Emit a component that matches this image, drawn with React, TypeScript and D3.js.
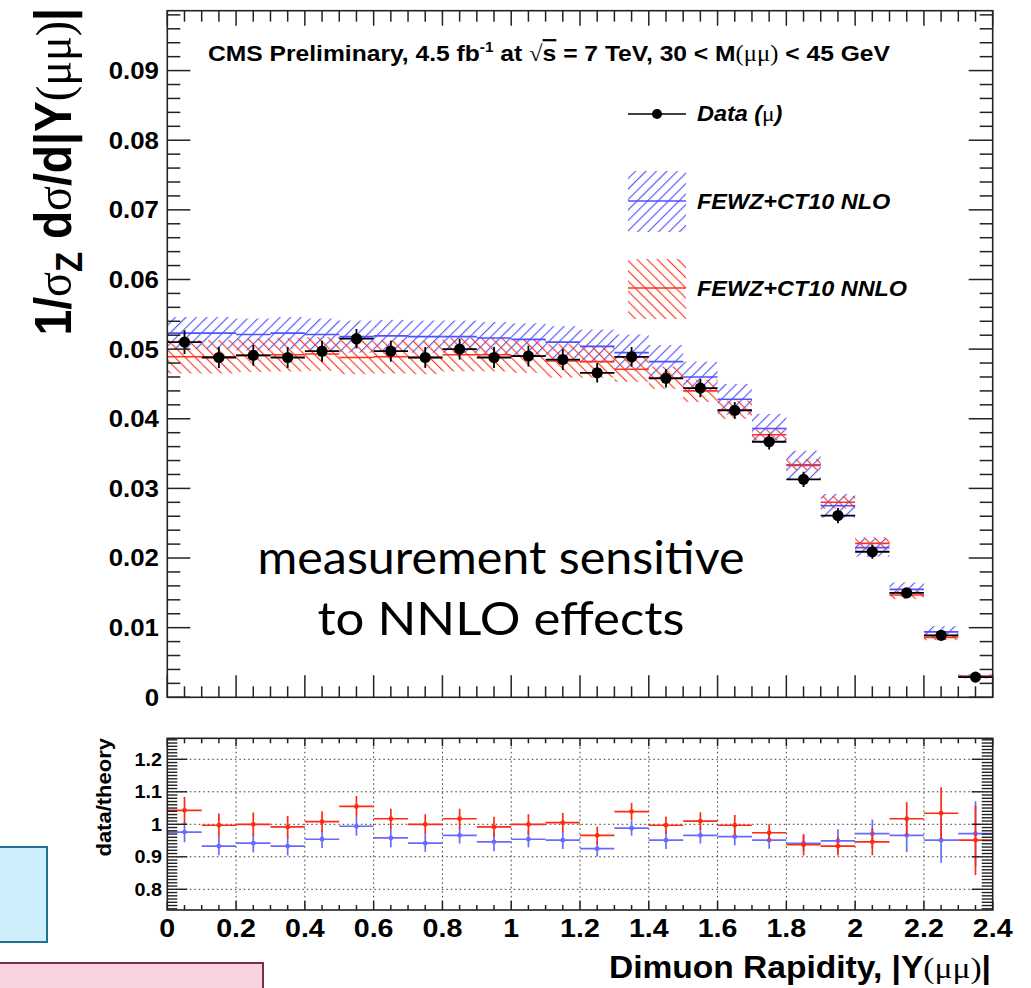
import React from "react";
import * as d3 from "d3";

// ---------- data ----------
const binLow = [0.0, 0.1, 0.2, 0.3, 0.4, 0.5, 0.6, 0.7, 0.8, 0.9, 1.0, 1.1, 1.2, 1.3, 1.4, 1.5, 1.6, 1.7, 1.8, 1.9, 2.0, 2.1, 2.2, 2.3];
const binHigh = [0.1, 0.2, 0.3, 0.4, 0.5, 0.6, 0.7, 0.8, 0.9, 1.0, 1.1, 1.2, 1.3, 1.4, 1.5, 1.6, 1.7, 1.8, 1.9, 2.0, 2.1, 2.2, 2.3, 2.4];

const dataVal = [0.0510, 0.0488, 0.0491, 0.0488, 0.0497, 0.0515, 0.0497, 0.0488, 0.0500, 0.0488, 0.0490, 0.0485, 0.0466, 0.0489, 0.0458, 0.0444, 0.0412, 0.0367, 0.0313, 0.0261, 0.0209, 0.0150, 0.0089, 0.0029];
const dataErr = [0.0017, 0.0015, 0.0015, 0.0015, 0.0015, 0.0014, 0.0015, 0.0015, 0.0015, 0.0015, 0.0015, 0.0015, 0.0014, 0.0014, 0.0013, 0.0013, 0.0012, 0.0011, 0.0011, 0.0011, 0.0010, 0.0007, 0.0007, 0.0003];

const nloVal = [0.0523, 0.0523, 0.0521, 0.0523, 0.0521, 0.0518, 0.0519, 0.0518, 0.0518, 0.0516, 0.0514, 0.0510, 0.0504, 0.0495, 0.0482, 0.0460, 0.0428, 0.0386, 0.0333, 0.0275, 0.0215, 0.0155, 0.0094, 0.0030];
const nloErr = [0.0023, 0.0023, 0.0023, 0.0023, 0.0023, 0.0023, 0.0023, 0.0023, 0.0023, 0.0023, 0.0023, 0.0023, 0.0024, 0.0026, 0.0024, 0.0022, 0.0022, 0.0021, 0.0021, 0.0017, 0.0013, 0.0010, 0.0008, 0.0003];

const nnloVal = [0.0489, 0.0489, 0.0491, 0.0492, 0.0493, 0.0488, 0.0489, 0.0488, 0.0492, 0.0492, 0.0490, 0.0483, 0.0482, 0.0471, 0.0459, 0.0440, 0.0413, 0.0377, 0.0334, 0.0280, 0.0221, 0.0147, 0.0086, 0.0030];
const nnloErr = [0.0024, 0.0024, 0.0024, 0.0024, 0.0024, 0.0024, 0.0024, 0.0024, 0.0024, 0.0024, 0.0024, 0.0024, 0.0023, 0.0018, 0.0016, 0.0016, 0.0013, 0.0008, 0.0008, 0.0009, 0.0009, 0.0006, 0.0004, 0.0002];

const ratioNlo = [0.976, 0.933, 0.942, 0.933, 0.954, 0.994, 0.958, 0.942, 0.966, 0.946, 0.954, 0.951, 0.925, 0.988, 0.951, 0.966, 0.962, 0.951, 0.941, 0.949, 0.971, 0.966, 0.951, 0.971];
const ratioNloErr = [0.031, 0.028, 0.029, 0.029, 0.027, 0.029, 0.029, 0.027, 0.025, 0.029, 0.025, 0.027, 0.024, 0.023, 0.027, 0.025, 0.027, 0.026, 0.025, 0.036, 0.044, 0.051, 0.069, 0.100];
const ratioNnlo = [1.043, 0.997, 1.000, 0.992, 1.008, 1.055, 1.017, 1.000, 1.017, 0.992, 1.000, 1.005, 0.966, 1.039, 0.997, 1.010, 0.997, 0.974, 0.937, 0.933, 0.946, 1.017, 1.034, 0.951];
const ratioNnloErr = [0.041, 0.036, 0.036, 0.034, 0.032, 0.032, 0.031, 0.031, 0.031, 0.031, 0.031, 0.030, 0.027, 0.027, 0.027, 0.027, 0.032, 0.026, 0.033, 0.029, 0.041, 0.051, 0.080, 0.107];

const xTickVals = [0, 0.2, 0.4, 0.6, 0.8, 1.0, 1.2, 1.4, 1.6, 1.8, 2.0, 2.2, 2.4];
const xTickLabels = ["0", "0.2", "0.4", "0.6", "0.8", "1", "1.2", "1.4", "1.6", "1.8", "2", "2.2", "2.4"];
const yMainTickVals = [0, 0.01, 0.02, 0.03, 0.04, 0.05, 0.06, 0.07, 0.08, 0.09];
const yMainTickLabels = ["0", "0.01", "0.02", "0.03", "0.04", "0.05", "0.06", "0.07", "0.08", "0.09"];
const yRatioTickVals = [0.8, 0.9, 1.0, 1.1, 1.2];
const yRatioTickLabels = ["0.8", "0.9", "1", "1.1", "1.2"];

// ---------- styling ----------
const SANS = "'Liberation Sans', Arial, Helvetica, sans-serif";
const SERIF = "'Liberation Serif', 'DejaVu Serif', serif";
const BLUE = "#5050ff";
const RED = "#ff3318";
const RBLUE = "#6a6aff";
const RRED = "#ff2a12";
const FRAME = "#222";
const SX = 1.1;

const W = 1031;
const H = 988;

const x = d3.scaleLinear().domain([0, 2.4]).range([167.3, 992.7]);
const yMain = d3.scaleLinear().domain([0, 0.0986]).range([697.3, 10.7]);
const yRatio = d3.scaleLinear().domain([0.7363, 1.2646]).range([910, 738.3]);

function T(props: any) {
  const { x: tx, y: ty, size, anchor = "start", rot = 0, sx = SX, sy = 1, weight = "bold", italic = false, children, fill = "#000" } = props;
  return (
    <text
      transform={`translate(${tx},${ty}) rotate(${rot}) scale(${sx},${sy})`}
      fontFamily={SANS}
      fontSize={size}
      fontWeight={weight}
      fontStyle={italic ? "italic" : "normal"}
      textAnchor={anchor}
      fill={fill}
    >
      {children}
    </text>
  );
}

export default function App() {
  const [mx0, mx1] = x.range();
  const mTop = yMain.range()[1];
  const mBot = yMain.range()[0];
  const rTop = yRatio.range()[1];
  const rBot = yRatio.range()[0];

  const xMinor = d3.range(0, 2.4001, 0.05);
  const yMainMinor = d3.range(0, 0.0986, 0.002);
  const yRatioMinor = d3.range(0.74, 1.2646, 0.01);

  const isMajorX = (v: number) => Math.abs(v / 0.2 - Math.round(v / 0.2)) < 1e-6;
  const isMajorYM = (v: number) => Math.abs(v / 0.01 - Math.round(v / 0.01)) < 1e-6;
  const isMajorYR = (v: number) => Math.abs(v / 0.1 - Math.round(v / 0.1)) < 1e-6;

  return (
    <svg width={W} height={H} style={{ position: "absolute", left: 0, top: 0, background: "#fff" }}>
      <defs>
        <pattern id="hatchBlue" patternUnits="userSpaceOnUse" width="7.4" height="7.4" patternTransform="rotate(45)">
          <line x1="0.6" y1="0" x2="0.6" y2="7.4" stroke={BLUE} strokeWidth="1.1" />
        </pattern>
        <pattern id="hatchRed" patternUnits="userSpaceOnUse" width="7.2" height="7.2" patternTransform="rotate(-45)">
          <line x1="0.6" y1="0" x2="0.6" y2="7.2" stroke={RED} strokeWidth="1.1" />
        </pattern>
        <clipPath id="clipMain">
          <rect x={mx0} y={mTop} width={mx1 - mx0} height={mBot - mTop} />
        </clipPath>
        <clipPath id="clipRatio">
          <rect x={mx0} y={rTop} width={mx1 - mx0} height={rBot - rTop} />
        </clipPath>
      </defs>
      <rect x={0} y={0} width={W} height={H} fill="#fff" />

      {/* slide boxes at left */}
      <rect x={-3} y={847} width={50} height={95} fill="#cdeefa" stroke="#1f7391" strokeWidth={2} />
      <rect x={-3} y={963} width={266} height={40} fill="#f8d3de" stroke="#7d2b48" strokeWidth={2} />

      {/* ===== main panel ===== */}
      <g clipPath="url(#clipMain)">
        {binLow.map((lo, i) => (
          <rect key={"nb" + i} x={x(lo)} width={x(binHigh[i]) - x(lo)}
            y={yMain(nloVal[i] + nloErr[i])} height={yMain(nloVal[i] - nloErr[i]) - yMain(nloVal[i] + nloErr[i])}
            fill="url(#hatchBlue)" />
        ))}
        {binLow.map((lo, i) => (
          <rect key={"rb" + i} x={x(lo)} width={x(binHigh[i]) - x(lo)}
            y={yMain(nnloVal[i] + nnloErr[i])} height={yMain(nnloVal[i] - nnloErr[i]) - yMain(nnloVal[i] + nnloErr[i])}
            fill="url(#hatchRed)" />
        ))}
        {binLow.map((lo, i) => (
          <line key={"nl" + i} x1={x(lo)} x2={x(binHigh[i])} y1={yMain(nloVal[i])} y2={yMain(nloVal[i])} stroke={BLUE} strokeWidth={1.6} />
        ))}
        {binLow.map((lo, i) => (
          <line key={"rl" + i} x1={x(lo)} x2={x(binHigh[i])} y1={yMain(nnloVal[i])} y2={yMain(nnloVal[i])} stroke={RED} strokeWidth={1.6} />
        ))}
        {binLow.map((lo, i) => {
          const cx = x((lo + binHigh[i]) / 2);
          return (
            <g key={"d" + i}>
              <line x1={x(lo)} x2={x(binHigh[i])} y1={yMain(dataVal[i])} y2={yMain(dataVal[i])} stroke="#000" strokeWidth={1.8} />
              <line x1={cx} x2={cx} y1={yMain(dataVal[i] - dataErr[i])} y2={yMain(dataVal[i] + dataErr[i])} stroke="#000" strokeWidth={1.8} />
              <circle cx={cx} cy={yMain(dataVal[i])} r={5.6} fill="#000" />
            </g>
          );
        })}
      </g>

      {/* main frame & ticks */}
      <rect x={mx0} y={mTop} width={mx1 - mx0} height={mBot - mTop} fill="none" stroke={FRAME} strokeWidth={1.6} />
      {xMinor.map((v, i) => {
        const major = isMajorX(v);
        return (
          <g key={"mxt" + i} stroke={FRAME} strokeWidth={1.5}>
            <line x1={x(v)} x2={x(v)} y1={mBot} y2={mBot - (major ? 22 : 11)} />
            <line x1={x(v)} x2={x(v)} y1={mTop} y2={mTop + (major ? 15 : 11)} />
          </g>
        );
      })}
      {yMainMinor.map((v, i) => {
        const major = isMajorYM(v);
        return (
          <g key={"myt" + i} stroke={FRAME} strokeWidth={1.5}>
            <line x1={mx0} x2={mx0 + (major ? 23 : 13)} y1={yMain(v)} y2={yMain(v)} />
            <line x1={mx1} x2={mx1 - (major ? 24 : 13)} y1={yMain(v)} y2={yMain(v)} />
          </g>
        );
      })}
      {yMainTickVals.map((v, i) => (
        <T key={"myl" + i} x={159} y={yMain(v) + 8.4} size={23.5} anchor="end">{yMainTickLabels[i]}</T>
      ))}

      {/* main y title */}
      <text transform={`translate(71,8) rotate(-90) scale(${SX},1.22)`} fontFamily={SANS} fontSize={42} fontWeight="bold" textAnchor="end">
        <tspan>1/</tspan>
        <tspan fontFamily={SERIF} fontWeight="normal">σ</tspan>
        <tspan fontSize={30} dy={9}>Z</tspan>
        <tspan dy={-9}> d</tspan>
        <tspan fontFamily={SERIF} fontWeight="normal">σ</tspan>
        <tspan>/d|Y</tspan>
        <tspan fontFamily={SERIF} fontWeight="normal">(μμ)</tspan>
        <tspan>|</tspan>
      </text>

      {/* header */}
      <text transform={`translate(208,61) scale(1.095,1)`} fontFamily={SANS} fontSize={22.5} fontWeight="bold">
        <tspan>CMS Preliminary, 4.5 fb</tspan>
        <tspan fontSize={14} dy={-9}>-1</tspan>
        <tspan dy={9}> at </tspan>
        <tspan fontFamily={SERIF} fontWeight="normal">√</tspan>
        <tspan style={{ textDecoration: "overline" }}>s</tspan>
        <tspan> = 7 TeV, 30 &lt; M</tspan>
        <tspan fontFamily={SERIF} fontWeight="normal">(μμ)</tspan>
        <tspan> &lt; 45 GeV</tspan>
      </text>

      {/* legend */}
      <line x1={628} x2={686} y1={114} y2={114} stroke="#000" strokeWidth={1.5} />
      <circle cx={657} cy={114} r={5} fill="#000" />
      <text transform={`translate(697,121) scale(${SX},1)`} fontFamily={SANS} fontSize={21.3} fontWeight="bold" fontStyle="italic">
        <tspan>Data (</tspan>
        <tspan fontFamily={SERIF} fontWeight="normal" fontStyle="normal">μ</tspan>
        <tspan>)</tspan>
      </text>
      <rect x={628} y={171} width={58} height={61} fill="url(#hatchBlue)" />
      <line x1={628} x2={686} y1={201} y2={201} stroke={BLUE} strokeWidth={1.6} />
      <T x={697} y={208.5} size={21.3} italic>FEWZ+CT10 NLO</T>
      <rect x={628} y={259} width={58} height={60} fill="url(#hatchRed)" />
      <line x1={628} x2={686} y1={288} y2={288} stroke={RED} strokeWidth={1.6} />
      <T x={697} y={295.5} size={21.3} italic>FEWZ+CT10 NNLO</T>

      {/* annotation */}
      <text x={501} y={574} fontFamily="Lato, 'Open Sans', sans-serif" fontSize={46} textAnchor="middle" textLength={487} lengthAdjust="spacingAndGlyphs">measurement sensitive</text>
      <text x={501} y={635} fontFamily="Lato, 'Open Sans', sans-serif" fontSize={46} textAnchor="middle" textLength={367} lengthAdjust="spacingAndGlyphs">to NNLO effects</text>

      {/* ===== ratio panel ===== */}
      <g stroke="#333" strokeWidth={1} strokeDasharray="1.5 3">
        {xTickVals.filter((v) => v > 0 && v < 2.4).map((v, i) => (
          <line key={"gx" + i} x1={x(v)} x2={x(v)} y1={rTop} y2={rBot} />
        ))}
        {yRatioTickVals.map((v, i) => (
          <line key={"gy" + i} x1={mx0} x2={mx1} y1={yRatio(v)} y2={yRatio(v)} />
        ))}
      </g>
      <g clipPath="url(#clipRatio)">
        {binLow.map((lo, i) => {
          const cx = x((lo + binHigh[i]) / 2);
          return (
            <g key={"rn" + i} stroke={RBLUE} strokeWidth={1.7}>
              <line x1={x(lo)} x2={x(binHigh[i])} y1={yRatio(ratioNlo[i])} y2={yRatio(ratioNlo[i])} />
              <line x1={cx} x2={cx} y1={yRatio(ratioNlo[i] - ratioNloErr[i])} y2={yRatio(ratioNlo[i] + ratioNloErr[i])} />
              <circle cx={cx} cy={yRatio(ratioNlo[i])} r={2.4} fill={RBLUE} stroke="none" />
            </g>
          );
        })}
        {binLow.map((lo, i) => {
          const cx = x((lo + binHigh[i]) / 2);
          return (
            <g key={"rr" + i} stroke={RRED} strokeWidth={1.7}>
              <line x1={x(lo)} x2={x(binHigh[i])} y1={yRatio(ratioNnlo[i])} y2={yRatio(ratioNnlo[i])} />
              <line x1={cx} x2={cx} y1={yRatio(ratioNnlo[i] - ratioNnloErr[i])} y2={yRatio(ratioNnlo[i] + ratioNnloErr[i])} />
              <circle cx={cx} cy={yRatio(ratioNnlo[i])} r={2.4} fill={RRED} stroke="none" />
            </g>
          );
        })}
      </g>
      <rect x={mx0} y={rTop} width={mx1 - mx0} height={rBot - rTop} fill="none" stroke={FRAME} strokeWidth={1.6} />
      {xMinor.map((v, i) => {
        const major = isMajorX(v);
        return (
          <g key={"rxt" + i} stroke={FRAME} strokeWidth={1.5}>
            <line x1={x(v)} x2={x(v)} y1={rBot} y2={rBot - (major ? 9 : 5)} />
            <line x1={x(v)} x2={x(v)} y1={rTop} y2={rTop + (major ? 8 : 5)} />
          </g>
        );
      })}
      {yRatioMinor.map((v, i) => {
        const major = isMajorYR(v);
        return (
          <g key={"ryt" + i} stroke={FRAME} strokeWidth={1.4}>
            <line x1={mx0} x2={mx0 + (major ? 20 : 10)} y1={yRatio(v)} y2={yRatio(v)} />
            <line x1={mx1} x2={mx1 - (major ? 21 : 11)} y1={yRatio(v)} y2={yRatio(v)} />
          </g>
        );
      })}
      {yRatioTickVals.map((v, i) => (
        <T key={"ryl" + i} x={162} y={yRatio(v) + 6.5} size={18} anchor="end">{yRatioTickLabels[i]}</T>
      ))}
      <T x={111} y={738} size={20} anchor="end" rot={-90}>data/theory</T>

      {xTickVals.map((v, i) => (
        <T key={"xl" + i} x={x(v)} y={937} size={26} anchor="middle">{xTickLabels[i]}</T>
      ))}

      {/* x title */}
      <text transform={`translate(991,978) scale(${SX},1)`} fontFamily={SANS} fontSize={30.5} fontWeight="bold" textAnchor="end">
        <tspan>Dimuon Rapidity, |Y</tspan>
        <tspan fontFamily={SERIF} fontWeight="normal">(μμ)</tspan>
        <tspan>|</tspan>
      </text>
    </svg>
  );
}
